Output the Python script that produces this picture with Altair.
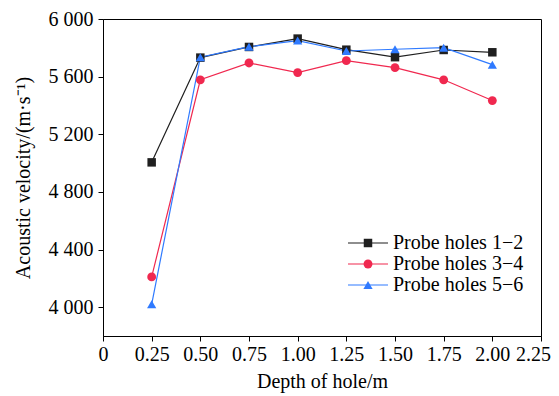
import altair as alt
import pandas as pd

depth = [0.25, 0.50, 0.75, 1.00, 1.25, 1.50, 1.75, 2.00]
holes_12 = [5005, 5732, 5806, 5864, 5787, 5735, 5785, 5769]
holes_34 = [4210, 5578, 5695, 5628, 5711, 5663, 5578, 5434]
holes_56 = [4020, 5735, 5808, 5850, 5778, 5790, 5801, 5683]
series = ["Probe holes 1\u22122", "Probe holes 3\u22124", "Probe holes 5\u22126"]
colors = ["#1f1f1f", "#f0284f", "#2f7aff"]
shapes = ["square", "circle", "triangle-up"]
sizes = [72, 85, 115]
x_ticks = [0, 0.25, 0.5, 0.75, 1.0, 1.25, 1.5, 1.75, 2.0, 2.25]
y_ticks = [4000, 4400, 4800, 5200, 5600, 6000]

rows = []
for name, vals in zip(series, [holes_12, holes_34, holes_56]):
    for d, v in zip(depth, vals):
        rows.append({"depth": d, "velocity": v, "series": name})
df = pd.DataFrame(rows)
leg = pd.DataFrame({"series": series})

FONT = "Liberation Serif"

x_enc = alt.X("depth:Q", scale=alt.Scale(domain=[0, 2.25], nice=False, zero=False),
              axis=alt.Axis(values=x_ticks, title="Depth of hole/m",
                            labelExpr="datum.value == 0 ? '0' : format(datum.value, '.2f')",
                            grid=False, tickSize=5, labelPadding=3, titlePadding=7,
                            labelOverlap=False, labelFlush=False,
                            labelOffset={"condition": {"test": "datum.value > 2.2", "value": -8},
                                         "value": 0}))
y_enc = alt.Y("velocity:Q", scale=alt.Scale(domain=[3800, 6000], nice=False, zero=False),
              axis=alt.Axis(values=y_ticks, title="Acoustic velocity/(m\u00b7s\u207b\u00b9)",
                            labelExpr="replace(format(datum.value, ','), ',', ' ')",
                            grid=False, tickSize=5, labelPadding=5, titlePadding=15,
                            labelOverlap=False, labelFlush=False))
col = alt.Color("series:N", scale=alt.Scale(domain=series, range=colors), legend=None)
shp = alt.Shape("series:N", scale=alt.Scale(domain=series, range=shapes), legend=None)
sz = alt.Size("series:N", scale=alt.Scale(domain=series, range=sizes), legend=None)

lines = alt.Chart(df).mark_line(strokeWidth=1.2).encode(x=x_enc, y=y_enc, color=col, detail="series:N")
points = alt.Chart(df).mark_point(filled=True, opacity=1).encode(x=x_enc, y=y_enc, color=col, shape=shp, size=sz)
data_layer = alt.layer(lines, points)

leg_y = alt.Y("series:N", scale=alt.Scale(domain=series, range=[224, 266], type="point", padding=0),
              axis=None)
leg_line = alt.Chart(leg).mark_rule(strokeWidth=1.2).encode(
    x=alt.value(245), x2=alt.value(285), y=leg_y, color=col)
leg_pt = alt.Chart(leg).mark_point(filled=True, opacity=1).encode(
    x=alt.value(265), y=leg_y, color=col, shape=shp, size=sz)
leg_txt = alt.Chart(leg).mark_text(align="left", baseline="middle", font=FONT, fontSize=20,
                                   color="black").encode(
    x=alt.value(290), y=leg_y, text="series:N")
legend_layer = alt.layer(leg_line, leg_pt, leg_txt)

chart = alt.layer(data_layer, legend_layer).resolve_scale(
    y="independent"
).properties(
    width=438, height=317,
    autosize=alt.AutoSizeParams(type="none"),
    padding={"left": 95, "top": 11, "right": 10, "bottom": 57},
).configure_view(stroke="black", strokeWidth=1).configure_axis(
    labelFont=FONT, titleFont=FONT, labelFontSize=20, titleFontSize=20,
    labelColor="black", titleColor="black", domainColor="black", tickColor="black",
    titleFontWeight="normal",
)

chart.save("out.html", embed_options={"renderer": "svg", "actions": False})
